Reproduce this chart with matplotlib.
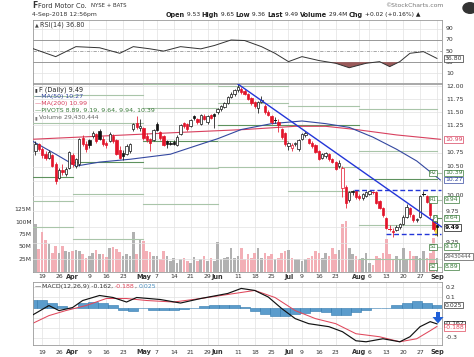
import numpy as np
import matplotlib
matplotlib.use("Agg")
import matplotlib.pyplot as plt
from matplotlib.patches import Rectangle, Polygon, Circle
from matplotlib import transforms

W, H = 474, 357

# ---------------- data ----------------
week_pos = [2, 7, 11, 16, 21, 26, 32, 36, 41, 46, 51, 54, 60, 65, 70, 75, 79, 84, 89, 96, 99, 104, 109, 114, 119]
week_lab = ['19', '26', 'Apr', '9', '16', '23', 'May', '7', '14', '21', '29', 'Jun', '11', '18', '25',
            'Jul', '9', '16', '23', 'Aug', '6', '13', '20', '27', 'Sep']
month_labels = ['Apr', 'May', 'Jun', 'Jul', 'Aug', 'Sep']

opens = [10.78, 10.90, 10.82, 10.72, 10.66, 10.70, 10.55, 10.30, 10.45, 10.38, 10.48, 10.70, 10.52, 10.55, 11.02,
         10.90, 10.98, 11.05, 11.08, 11.15, 11.00, 10.92, 10.95, 11.05, 10.98, 10.80, 10.75, 10.72, 10.78, 11.18,
         11.30, 11.20, 11.20, 11.05, 11.00, 10.98, 11.28, 11.12, 11.05, 10.95, 10.92, 10.94, 10.88, 11.08, 11.30,
         11.28, 11.24, 11.42, 11.36, 11.28, 11.42, 11.32, 11.44, 11.46, 11.50, 11.56, 11.60, 11.68, 11.80, 11.86,
         11.94, 11.96, 11.92, 11.86, 11.78, 11.70, 11.58, 11.70, 11.62, 11.50, 11.42, 11.33, 11.32, 11.18, 11.10,
         10.86, 10.84, 10.90, 10.82, 11.00, 11.06, 11.00, 10.92, 10.88, 10.78, 10.66, 10.68, 10.72, 10.64, 10.58,
         10.52, 10.13, 10.15, 9.93, 10.09, 10.08, 10.00, 9.96, 10.00, 10.04, 10.08, 10.07, 9.92, 9.80, 9.64,
         9.48, 9.44, 9.45, 9.50, 9.54, 9.66, 9.80, 9.68, 9.60, 9.66, 10.04, 10.00, 9.88, 9.62, 9.53]
highs = [10.95, 10.92, 10.85, 10.78, 10.80, 10.72, 10.58, 10.48, 10.55, 10.50, 10.78, 10.74, 10.66, 11.02, 11.06,
         10.95, 11.00, 11.14, 11.10, 11.18, 11.05, 10.95, 11.12, 11.08, 11.00, 10.86, 10.80, 10.90, 10.92, 11.30,
         11.42, 11.36, 11.22, 11.10, 11.02, 11.18, 11.32, 11.14, 11.06, 10.98, 10.96, 10.98, 11.06, 11.28, 11.32,
         11.30, 11.36, 11.44, 11.38, 11.46, 11.46, 11.44, 11.46, 11.48, 11.58, 11.64, 11.70, 11.82, 11.90, 11.96,
         12.04, 11.98, 11.96, 11.88, 11.80, 11.72, 11.72, 11.82, 11.66, 11.54, 11.44, 11.40, 11.36, 11.20, 11.12,
         10.94, 10.92, 10.94, 11.00, 11.10, 11.14, 11.02, 10.96, 10.90, 10.80, 10.74, 10.76, 10.74, 10.66, 10.60,
         10.62, 10.52, 10.18, 10.09, 10.10, 10.10, 10.04, 10.05, 10.08, 10.09, 10.09, 10.08, 9.94, 9.82, 9.66,
         9.52, 9.48, 9.52, 9.56, 9.68, 9.86, 9.82, 9.70, 9.64, 10.02, 10.09, 10.02, 9.90, 9.64, 9.65]
lows = [10.70, 10.78, 10.66, 10.62, 10.64, 10.50, 10.20, 10.28, 10.36, 10.34, 10.46, 10.50, 10.48, 10.52, 10.86,
        10.76, 10.84, 11.02, 10.92, 10.98, 10.86, 10.84, 10.94, 10.92, 10.70, 10.64, 10.62, 10.70, 10.74, 11.15,
        11.18, 11.15, 10.98, 10.94, 10.78, 10.96, 11.14, 10.98, 10.86, 10.84, 10.88, 10.88, 10.86, 11.06, 11.20,
        11.14, 11.22, 11.34, 11.28, 11.26, 11.34, 11.28, 11.36, 11.20, 11.46, 11.52, 11.58, 11.66, 11.78, 11.82,
        11.90, 11.86, 11.84, 11.74, 11.64, 11.58, 11.48, 11.68, 11.46, 11.42, 11.28, 11.30, 11.12, 11.00, 10.86,
        10.80, 10.78, 10.86, 10.78, 10.98, 11.04, 10.90, 10.84, 10.74, 10.62, 10.64, 10.66, 10.60, 10.56, 10.44,
        10.48, 9.98, 9.80, 9.90, 10.02, 9.95, 9.94, 9.94, 9.98, 10.02, 10.03, 9.86, 9.78, 9.66, 9.46,
        9.44, 9.34, 9.43, 9.47, 9.52, 9.64, 9.66, 9.58, 9.57, 9.64, 10.00, 9.88, 9.64, 9.44, 9.36]
closes = [10.90, 10.82, 10.70, 10.66, 10.76, 10.52, 10.25, 10.45, 10.40, 10.46, 10.76, 10.55, 10.64, 11.00, 10.90,
          10.82, 10.88, 11.10, 10.95, 11.00, 10.90, 10.88, 11.08, 10.95, 10.72, 10.66, 10.68, 10.86, 10.90, 11.28,
          11.22, 11.24, 11.02, 10.98, 10.92, 11.16, 11.16, 11.02, 10.88, 10.90, 10.90, 10.90, 11.04, 11.26, 11.24,
          11.18, 11.34, 11.38, 11.32, 11.44, 11.36, 11.42, 11.38, 11.42, 11.56, 11.62, 11.68, 11.80, 11.86, 11.94,
          11.98, 11.90, 11.86, 11.76, 11.68, 11.62, 11.70, 11.74, 11.50, 11.45, 11.32, 11.34, 11.26, 11.04, 10.90,
          10.92, 10.88, 10.92, 10.98, 11.08, 11.10, 10.92, 10.86, 10.76, 10.64, 10.72, 10.74, 10.64, 10.58, 10.46,
          10.56, 10.47, 9.88, 10.06, 10.07, 9.98, 9.97, 10.04, 10.07, 10.09, 10.07, 9.88, 9.80, 9.68, 9.48,
          9.47, 9.42, 9.50, 9.54, 9.66, 9.82, 9.70, 9.60, 9.62, 10.00, 10.03, 9.90, 9.68, 9.47, 9.49]
volume_m = [96, 46, 80, 64, 56, 39, 52, 39, 52, 42, 40, 42, 44, 43, 36, 29, 33, 39, 44, 37,
            36, 30, 48, 50, 46, 40, 32, 37, 32, 80, 36, 66, 62, 42, 40, 33, 33, 26, 42, 33,
            22, 29, 19, 26, 29, 22, 19, 30, 22, 26, 32, 22, 29, 22, 60, 26, 29, 31, 48, 29,
            33, 48, 26, 36, 29, 39, 48, 29, 39, 32, 36, 26, 29, 39, 42, 44, 29, 26, 26, 22,
            26, 29, 32, 42, 39, 29, 39, 32, 48, 36, 44, 96, 102, 48, 36, 32, 26, 29, 39, 19,
            15, 32, 29, 39, 66, 36, 26, 32, 26, 48, 26, 42, 32, 32, 29, 42, 29, 39, 68, 29]

ma50_idx = [-1, 6, 12, 19, 28, 40, 48, 54, 61, 70, 79, 86, 93, 100, 107, 113, 120]
ma50_val = [10.96, 10.72, 10.51, 10.58, 10.63, 10.72, 10.88, 11.00, 11.17, 11.28, 11.33, 11.28, 11.21, 11.03, 10.81, 10.60, 10.27]
ma200_idx = [-1, 20, 44, 62, 77, 86, 95, 107, 120]
ma200_val = [10.99, 11.05, 11.12, 11.17, 11.23, 11.23, 11.17, 11.07, 10.99]

piv_start = [-1, 11, 32, 54, 75, 96, 119]
piv_end = [11, 32, 54, 75, 96, 119, 120.6]
piv_s2 = [9.50, 9.31, 9.87, 10.50, 10.09, 9.00, 8.89]
piv_s1 = [9.92, 10.03, 10.48, 10.95, 10.49, 9.53, 9.19]
piv_p = [10.32, 10.58, 10.96, 11.25, 11.25, 10.28, 9.64]
piv_r1 = [11.29, 11.30, 11.57, 11.67, 11.62, 10.77, 9.94]
piv_r2 = [11.82, 11.83, 12.05, 12.00, 12.45, 11.55, 10.39]

rsi_idx = [-1, 6, 12, 19, 25, 29, 34, 38, 43, 49, 53, 58, 62, 67, 71, 75, 79, 84, 89, 93, 98, 102, 105, 108, 111, 115, 119]
rsi_val = [55, 40, 58, 56, 46, 58, 54, 50, 58, 54, 60, 70, 69, 58, 46, 31, 40, 33, 28, 20, 28, 31, 22, 31, 46, 49, 36.8]

macd_idx = [-1, 4, 7, 11, 14, 19, 23, 27, 30, 37, 43, 49, 57, 61, 65, 69, 73, 77, 81, 87, 91, 95, 98, 103, 108, 111, 114, 117, 119]
macd_val = [-0.077, 0.02, -0.03, 0.0, 0.07, 0.12, 0.10, 0.055, 0.10, 0.08, 0.045, 0.09, 0.14, 0.19, 0.17, 0.105,
            -0.01, -0.11, -0.16, -0.19, -0.24, -0.33, -0.34, -0.31, -0.34, -0.29, -0.19, -0.14, -0.162]
sig_idx = [-1, 4, 9, 15, 21, 27, 33, 41, 49, 61, 65, 71, 77, 83, 89, 95, 102, 108, 113, 117, 119]
sig_val = [-0.16, -0.08, -0.03, 0.02, 0.09, 0.09, 0.07, 0.055, 0.09, 0.15, 0.17, 0.10, -0.03, -0.11, -0.16, -0.26,
           -0.29, -0.34, -0.31, -0.23, -0.188]
hist_idx = list(range(-1, 120, 3))
hist_val = [0.08, 0.08, 0.05, 0.02, 0.0, 0.05, 0.06, 0.05, 0.03, -0.02, -0.03, 0.0, -0.02, -0.02, -0.02,
            -0.01, 0.0, 0.02, 0.03, 0.03, 0.03, 0.01, -0.03, -0.06, -0.08, -0.08, -0.06, -0.05, -0.03, -0.04,
            -0.07, -0.07, -0.04, -0.02, 0.0, 0.0, 0.03, 0.05, 0.07, 0.05, 0.025]

n = len(closes)
x = np.arange(n)

# ---------------- layout helpers ----------------
fig = plt.figure(figsize=(W / 100, H / 100), dpi=100)
fig.patch.set_facecolor('white')
L, R = 32.5, 442


def rect(y0, y1):
    return [L / W, 1 - y1 / H, (R - L) / W, (y1 - y0) / H]


def T(px, py, s, size=4.6, color='#222222', ha='left', va='center', weight='normal', **kw):
    return fig.text(px / W, 1 - py / H, s, fontsize=size, color=color, ha=ha, va=va, fontweight=weight, **kw)


def side_text(ax, px, yv, s, color='#222222', box=None, size=4.4, weight='normal', ha='left'):
    tr = transforms.blended_transform_factory(fig.transFigure, ax.transData)
    bb = None
    if box is not None:
        bb = dict(boxstyle='square,pad=0.12', fc='white', ec=box, lw=0.5)
    ax.text(px / W, yv, s, transform=tr, fontsize=size, color=color, ha=ha, va='center', bbox=bb,
            fontweight=weight, clip_on=False, zorder=10)


GRID = '#e2e2e2'
SPINE = '#9a9a9a'
XLIM = (-0.87, 120.5)


def style(ax):
    ax.set_xlim(*XLIM)
    ax.set_xticks([])
    ax.set_yticks([])
    for s in ax.spines.values():
        s.set_color(SPINE)
        s.set_linewidth(0.6)
    for p in week_pos:
        ax.axvline(p, color=GRID, lw=0.5, zorder=0)


# ---------------- header ----------------
T(32.5, 5.8, 'F', size=5.6, weight='bold', color='#333333')
T(38.5, 5.8, 'Ford Motor Co.', size=4.8, color='#333333')
T(91, 5.8, 'NYSE + BATS', size=3.9, color='#333333')
T(32.5, 14.8, '4-Sep-2018 12:56pm', size=4.4, color='#333333')
T(444, 5.5, '\u00a9StockCharts.com', size=4.4, color='#777777', ha='right')
fig.patches.append(Circle((470 / W, 1 - 8 / H), 7 / W, transform=fig.transFigure, color='#333333'))

renderer = fig.canvas.get_renderer()
cx = 165.5
for s, b in [('Open', True), (' 9.53 ', False), ('High', True), (' 9.65 ', False), ('Low', True),
             (' 9.36 ', False), ('Last', True), (' 9.49 ', False), ('Volume', True), (' 29.4M ', False),
             ('Chg', True), (' +0.02 (+0.16%) \u25b2', False)]:
    t = T(cx, 14.8, s, size=4.7 if b else 4.3, weight='bold' if b else 'normal', color='#222222')
    cx += t.get_window_extent(renderer).width

# ---------------- RSI panel ----------------
ax_r = fig.add_axes(rect(20, 83))
style(ax_r)
ax_r.set_ylim(-7.5, 106)
for lv in [90, 10]:
    ax_r.axhline(lv, color=GRID, lw=0.5, zorder=0)
ax_r.axhline(70, color='#888888', lw=0.6, zorder=1)
ax_r.axhline(30, color='#888888', lw=0.6, zorder=1)
ax_r.axhline(50, color='#999999', lw=0.6, ls=(0, (4, 1.5, 1, 1.5)), zorder=1)
ri = np.array(rsi_idx, float)
rv = np.array(rsi_val, float)
ax_r.fill_between(ri, rv, 30, where=rv < 30, interpolate=True, color='#9a5a5a', lw=0, zorder=2)
ax_r.plot(ri, rv, color='#333333', lw=0.7, zorder=3)
for lv in [90, 70, 50, 30, 10]:
    side_text(ax_r, 446, lv, str(lv), color='#333333')
side_text(ax_r, 445, 36.8, '36.80', box='#333333', color='#333333')
T(35, 25, '\u25b2', size=3.5, color='#444444')
T(39.5, 25, 'RSI(14) 36.80', size=4.7, color='#333333')

# ---------------- price panel (volume behind) ----------------
ax_v = fig.add_axes(rect(84, 272))
style(ax_v)
ax_v.set_ylim(0, 376)
ax_p = fig.add_axes(rect(84, 272), sharex=ax_v)
ax_p.patch.set_alpha(0)
ax_p.set_yscale('log')
ax_p.set_ylim(8.81, 12.05)
ax_p.set_xlim(*XLIM)
ax_p.set_xticks([])
ax_p.minorticks_off()
ax_p.set_yticks([])
for s in ax_p.spines.values():
    s.set_visible(False)

price_ticks = [12.0, 11.75, 11.5, 11.25, 11.0, 10.75, 10.5, 10.25, 10.0, 9.75, 9.5, 9.25, 9.0]
for pt in price_ticks:
    ax_p.axhline(pt, color=GRID, lw=0.5, zorder=0)

# volume
vcol = []
for i in range(n):
    up = i == 0 or closes[i] >= closes[i - 1]
    vcol.append('#a9a9a9' if up else '#f2a6ae')
ax_v.bar(x, volume_m, width=0.78, color=vcol, lw=0, zorder=1, alpha=0.9)
trv = transforms.blended_transform_factory(fig.transFigure, ax_v.transData)
for v, s in [(125, '125M'), (100, '100M'), (75, '75M'), (50, '50M'), (25, '25M')]:
    ax_v.text(31.5 / W, v, s, transform=trv, fontsize=4.3, color='#333333', ha='right', va='center', clip_on=False)

# pivots
for k in range(len(piv_start)):
    for lvl, col in [(piv_s2[k], '#a9c5a9'), (piv_s1[k], '#a9c5a9'), (piv_r1[k], '#a9c5a9'),
                     (piv_r2[k], '#a9c5a9'), (piv_p[k], '#5e925e')]:
        ax_p.plot([piv_start[k], piv_end[k]], [lvl, lvl], color=col, lw=0.8, zorder=1)

# moving averages
ax_p.plot(ma200_idx, ma200_val, color='#d8405e', lw=0.8, zorder=2)
ax_p.plot(ma50_idx, ma50_val, color='#3448a0', lw=0.8, zorder=2)

# highlight of the last bar
ax_p.add_patch(Rectangle((118.55, 9.36), 0.9, 0.29, color='#f6df4a', lw=0, zorder=2))

# candles
for i in range(n):
    o, h, l, c = opens[i], highs[i], lows[i], closes[i]
    up = i == 0 or c >= closes[i - 1]
    col = '#111111' if up else '#e3142a'
    ax_p.plot([i, i], [l, h], color=col, lw=0.55, zorder=4, solid_capstyle='butt')
    lo, hi = min(o, c), max(o, c)
    if hi - lo < 0.012:
        ax_p.plot([i - 0.38, i + 0.38], [c, c], color=col, lw=0.7, zorder=5)
    else:
        ax_p.add_patch(Rectangle((i - 0.34, lo), 0.68, hi - lo, fc='white' if c > o else col, ec=col,
                                 lw=0.5, zorder=5))

# trend lines
ax_p.plot([60, 120.3], [12.05, 9.50], color='#2336d8', lw=1.0, zorder=6)
ax_p.plot([94.5, 120.3], [10.10, 10.10], color='#2336d8', lw=1.0, ls=(0, (3.5, 2)), zorder=6)
ax_p.plot([104, 120.3], [9.38, 9.38], color='#2336d8', lw=1.0, ls=(0, (3.5, 2)), zorder=6)

# right side labels
for pt, s in [(12.0, '12.00'), (11.75, '11.75'), (11.5, '11.50'), (11.25, '11.25'), (10.75, '10.75'),
              (10.5, '10.50'), (10.0, '10.00'), (9.75, '9.75'), (9.25, '9.25')]:
    side_text(ax_p, 446, pt, s, color='#333333')
side_text(ax_p, 445, 10.99, '10.99', color='#d8405e', box='#d8405e')
side_text(ax_p, 445, 10.39, '10.39', color='#3a7a3a', box='#3a7a3a')
side_text(ax_p, 445, 10.27, '10.27', color='#3448a0', box='#3448a0')
side_text(ax_p, 445, 9.94, '9.94', color='#3a7a3a', box='#3a7a3a')
side_text(ax_p, 445, 9.64, '9.64', color='#3a7a3a', box='#3a7a3a')
side_text(ax_p, 445, 9.49, '9.49', color='#111111', box='#111111', weight='bold')
side_text(ax_p, 445, 9.19, '9.19', color='#3a7a3a', box='#3a7a3a')
side_text(ax_p, 445, 8.89, '8.89', color='#3a7a3a', box='#3a7a3a')
for yv, s in [(10.39, 'R2'), (9.94, 'R1'), (9.64, 'P'), (9.19, 'S1'), (8.89, 'S2')]:
    side_text(ax_p, 436.5, yv, s, color='#3a7a3a', box='#3a7a3a', size=3.8, ha='right')
side_text(ax_v, 445, 31, '29430444', color='#555555', box='#555555', size=3.8)

# legend
T(34.5, 89.5, '\u25ae', size=3.5, color='#333333')
T(39, 89.5, 'F (Daily) 9.49', size=4.7, color='#222222')
T(35, 96.7, '\u2014MA(50) 10.27', size=4.5, color='#3448a0')
T(35, 103.7, '\u2014MA(200) 10.99', size=4.5, color='#d8405e')
T(35, 110.7, '\u2014PIVOTS 8.89, 9.19, 9.64, 9.94, 10.39', size=4.5, color='#3a7a3a')
T(35, 117.3, '\u25ae', size=3.5, color='#777777')
T(39, 117.3, 'Volume 29,430,444', size=4.4, color='#666666')


def date_labels(ypx):
    tr = transforms.blended_transform_factory(ax_p.transData, fig.transFigure)
    for p, s in zip(week_pos, week_lab):
        bold = s in month_labels
        ax_p.text(p, 1 - ypx / H, s, transform=tr, fontsize=4.7 if bold else 4.4, ha='center', va='center',
                  fontweight='bold' if bold else 'normal', color='#333333', clip_on=False)


date_labels(277)

# ---------------- MACD panel ----------------
ax_m = fig.add_axes(rect(282, 345))
style(ax_m)
ax_m.set_ylim(-0.372, 0.254)
for lv in [0.2, 0.1, -0.1, -0.2, -0.3]:
    ax_m.axhline(lv, color=GRID, lw=0.5, zorder=0)
ax_m.bar(hist_idx, hist_val, width=3.0, color='#5b9ccc', edgecolor='#2f77ad', lw=0.4, zorder=1)
ax_m.plot(sig_idx, sig_val, color='#e0485c', lw=0.75, zorder=2)
ax_m.plot(macd_idx, macd_val, color='#111111', lw=0.85, zorder=3)
for lv, s in [(0.2, '0.2'), (0.1, '0.1'), (-0.3, '-0.3')]:
    side_text(ax_m, 446, lv, s, color='#333333')
side_text(ax_m, 445, 0.025, '0.025', color='#333333', box='#333333')
side_text(ax_m, 445, -0.162, '-0.162', color='#111111', box='#111111')
side_text(ax_m, 445, -0.20, '-0.188', color='#e0485c', box='#e0485c')


def px2fig(pts):
    return [(px / W, 1 - py / H) for px, py in pts]


arrow = [(436, 312), (440, 312), (440, 317), (443.5, 317), (438, 323.5), (432.5, 317), (436, 317)]
fig.patches.append(Polygon(px2fig(arrow), closed=True, transform=fig.transFigure, fc='#1f5fd8', ec='none'))

T(35, 286.7, '\u2014', size=4.5, color='#111111')
cx = 42
for s, c in [('MACD(12,26,9) -0.162, ', '#333333'), ('-0.188', '#e0485c'), (', ', '#333333'), ('0.025', '#4a8fc0')]:
    t = T(cx, 286.7, s, size=4.5, color=c)
    cx += t.get_window_extent(renderer).width

date_labels(352)

fig.savefig('out.png', dpi=100, facecolor='white')
